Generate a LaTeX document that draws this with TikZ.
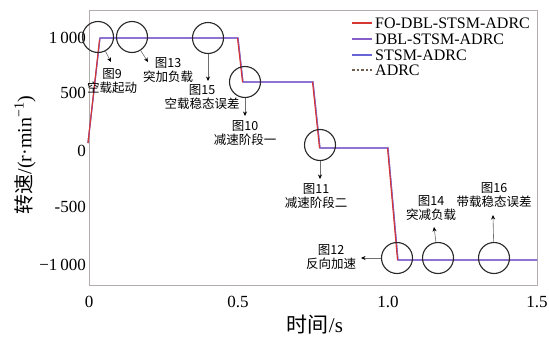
\documentclass[tikz,border=0pt]{standalone}
\usepackage{fontspec}
\setmainfont{Liberation Serif}
\newfontfamily\cjk{Noto Sans CJK SC}
\usetikzlibrary{arrows.meta}
\definecolor{redc}{RGB}{215,55,50}
\definecolor{purc}{RGB}{135,95,200}
\definecolor{bluc}{RGB}{105,100,215}
\definecolor{adrcc}{RGB}{110,95,80}
\definecolor{framec}{RGB}{178,172,172}
\definecolor{circc}{RGB}{40,40,40}
\definecolor{annc}{RGB}{110,110,110}
\tikzset{
  circ/.style={circle,draw=circc,line width=1.1pt,minimum size=31pt,inner sep=0pt},
  ann/.style={draw=annc,line width=0.6pt,-{Stealth[length=4.5pt,width=4pt,black]}},
  anntext/.style={align=center,inner sep=0pt,font=\fontsize{12.5}{14}\selectfont\cjk},
  tick/.style={inner sep=0pt,font=\fontsize{17}{17}\selectfont},
  leg/.style={anchor=west,inner sep=0pt,font=\fontsize{16}{16}\selectfont},
  legline/.style={line width=1.1pt},
  curve/.style={line width=1.1pt,line join=miter}
}
\begin{document}
\begin{tikzpicture}[x=1pt,y=-1pt]
\useasboundingbox (0,0) rectangle (549,343);
\fill[white] (0,0) rectangle (549,343);
% frame
\draw[framec,line width=0.9pt] (89,10) rectangle (537,285);
% curves
\draw[bluc,curve] (88,143) -- (100,38) -- (238,38) -- (243,82) -- (313,82) -- (320,148) -- (388,148) -- (398,260) -- (537,260);
\draw[purc,curve] (88,143) -- (100,38) -- (238,38) -- (243,82) -- (313,82) -- (320,148) -- (388,148) -- (398,260) -- (537,260);
\draw[redc,curve] (88,143) -- (99.5,39.5);
\draw[redc,curve] (237.5,38) -- (242.5,82);
\draw[redc,curve] (312.5,82) -- (319.5,148);
\draw[redc,curve] (387.5,148) -- (397.5,260);
% tick labels
\node[tick,anchor=east] (y1) at (86,38) {1\,000};
\node[tick,anchor=east] (y2) at (86,93) {500};
\node[tick,anchor=east] (y3) at (86,151) {0};
\node[tick,anchor=east] (y4) at (86,207) {-500};
\node[tick,anchor=east] (y5) at (86,265) {−1\,000};
\node[tick] (x1) at (89,302) {0};
\node[tick] (x2) at (238,302) {0.5};
\node[tick] (x3) at (388,302) {1.0};
\node[tick] (x4) at (537,302) {1.5};
% axis labels
\node[inner sep=0pt,font=\fontsize{21}{21}\selectfont] (xl) at (315,325) {{\cjk 时间}/s};
\node[inner sep=0pt,rotate=90,font=\fontsize{20}{20}\selectfont] (yl) at (25,155) {{\cjk 转速}/(r·min\textsuperscript{−1})};
% legend
\draw[redc,legline] (352,23) -- (372,23);
\node[leg] (l1) at (375,23) {FO-DBL-STSM-ADRC};
\draw[purc,legline] (352,39) -- (372,39);
\node[leg] (l2) at (375,39) {DBL-STSM-ADRC};
\draw[bluc,legline] (352,55) -- (372,55);
\node[leg] (l3) at (375,55) {STSM-ADRC};
\draw[adrcc,legline,dash pattern=on 2.5pt off 2pt] (352,70) -- (372,70);
\node[leg] (l4) at (375,70) {ADRC};
% circles
\node[circ] (c1) at (98,37) {};
\node[circ] (c2) at (132,37) {};
\node[circ] (c3) at (208,38) {};
\node[circ] (c4) at (245,82) {};
\node[circ] (c5) at (320,145) {};
\node[circ] (c6) at (397,258) {};
\node[circ] (c7) at (438,258) {};
\node[circ] (c8) at (494,258) {};
% arrow tips
\coordinate (a1) at (111,62);
\coordinate (a2) at (148,62);
\coordinate (a3) at (208,81);
\coordinate (a4) at (245,116);
\coordinate (a5) at (320,179);
\coordinate (a6) at (361,258);
\coordinate (a7) at (434,227);
\coordinate (a8) at (493,215);
\draw[ann] (c1) -- (a1);
\draw[ann] (c2) -- (a2);
\draw[ann] (c3) -- (a3);
\draw[ann] (c4) -- (a4);
\draw[ann] (c5) -- (a5);
\draw[ann] (c6) -- (a6);
\draw[ann] (c7) -- (a7);
\draw[ann] (c8) -- (a8);
% annotation texts
\node[anntext] (t1) at (112,81) {图9\\空载起动};
\node[anntext] (t2) at (168,70) {图13\\突加负载};
\node[anntext] (t3) at (202,97) {图15\\空载稳态误差};
\node[anntext] (t4) at (245,133) {图10\\减速阶段一};
\node[anntext] (t5) at (316,196) {图11\\减速阶段二};
\node[anntext] (t6) at (331,257) {图12\\反向加速};
\node[anntext] (t7) at (431,208) {图14\\突减负载};
\node[anntext] (t8) at (494,195) {图16\\带载稳态误差};
\end{tikzpicture}
\end{document}
